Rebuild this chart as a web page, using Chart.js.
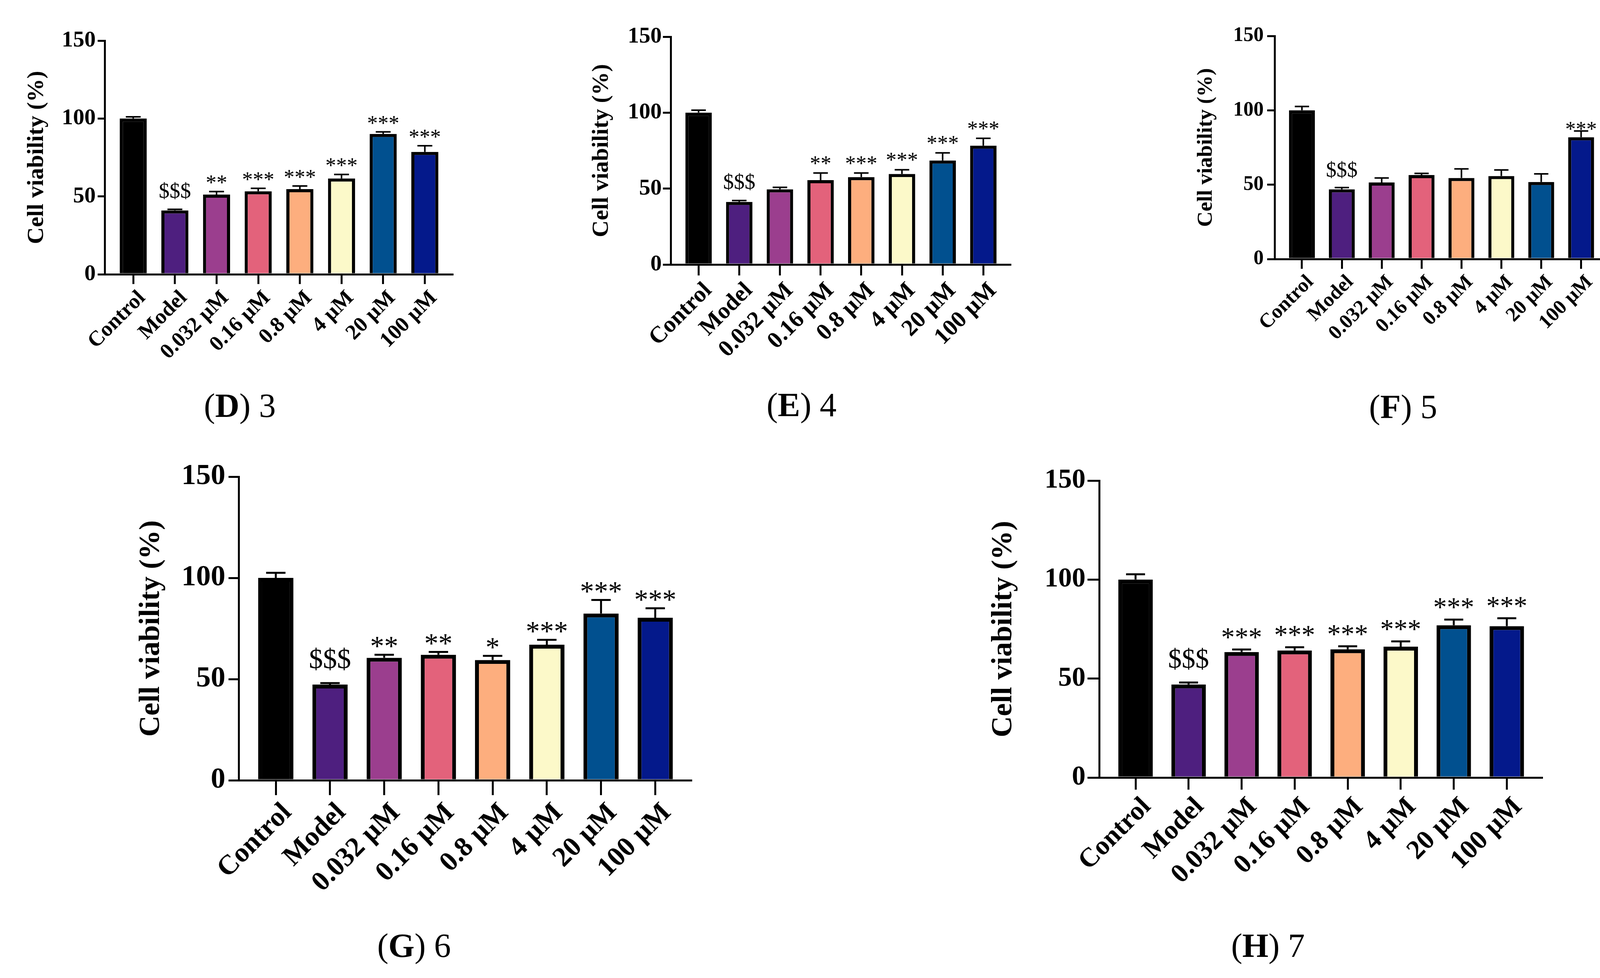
<!DOCTYPE html>
<html>
<head>
<meta charset="utf-8">
<script src="https://cdn.jsdelivr.net/npm/chart.js@4.4.1/dist/chart.umd.min.js"></script>
<style>
  html, body { margin: 0; padding: 0; background: #fff; }
  #page { position: relative; width: 4179px; height: 2503px; background: #fff; overflow: hidden; }
  canvas { position: absolute; }
  .cap { position: absolute; font-family: 'Liberation Serif', serif; font-size: 86px; color: #000;
         transform: translate(-50%, -50%); white-space: nowrap; line-height: 1; }
</style>
</head>
<body>
<div id="page"></div>
<script>
// groups on the x axis, same for every panel
const categories = ['Control', 'Model', '0.032 µM', '0.16 µM', '0.8 µM', '4 µM', '20 µM', '100 µM'];
const yTicks = [0, 50, 100, 150];

// mean cell viability (%) and upper error (SD)
const meanD = [100, 41, 51.2, 53.3, 54.7, 61.5, 90.1, 78.6];
const errD = [1.1, 0.7, 1.9, 1.9, 2.0, 2.6, 1.3, 3.9];
const marksD = ['', '$$$', '**', '***', '***', '***', '***', '***'];

const meanE = [100, 41.2, 49.5, 55.6, 57.6, 59.6, 68.5, 78.3];
const errE = [1.6, 0.9, 1.3, 4.7, 2.7, 2.8, 5.0, 4.8];
const marksE = ['', '$$$', '', '**', '***', '***', '***', '***'];

const meanF = [100, 46.9, 51.5, 56.5, 54.5, 55.8, 51.8, 81.9];
const errF = [2.6, 1.2, 3.0, 1.1, 6.1, 4.1, 5.5, 4.2];
const marksF = ['', '$$$', '', '', '', '', '', '***'];

const meanG = [100, 47.3, 60.5, 62.0, 59.4, 67.0, 82.4, 80.3];
const errG = [2.5, 0.7, 1.5, 1.4, 2.1, 2.4, 6.7, 4.7];
const marksG = ['', '$$$', '**', '**', '*', '***', '***', '***'];

const meanH = [100, 47.0, 63.4, 64.2, 64.8, 66.1, 76.9, 76.5];
const errH = [2.7, 1.0, 1.3, 1.6, 1.5, 2.7, 2.9, 4.0];
const marksH = ['', '$$$', '***', '***', '***', '***', '***', '***'];

const barColors = ['#000000', '#4e1f7f', '#9b3e8e', '#e3627b', '#fdae7e', '#fcf9c9', '#01508f', '#04198b'];
const serif = "'Liberation Serif', 'Times New Roman', serif";

// layout of each panel (pixels in the page)
const panels = [
  { letter: 'D', num: '3', mean: meanD, err: errD, marks: marksD,
    box: [20, 40, 1200, 1000], axisX: 268, axisTop: 104, axisBottom: 702, axisRight: 1158, titleX: 94,
    tickFont: 58, labelFont: 55, titleFont: 60, markFont: 55, yTickLen: 18, yPad: 5, xTickLen: 25,
    barBorder: 8, errWidth: 4, starGap: 18, dollarGap: 24, caption: [614, 1038] },
  { letter: 'E', num: '4', mean: meanE, err: errE, marks: marksE,
    box: [1460, 30, 2630, 1000], axisX: 1717, axisTop: 94, axisBottom: 677, axisRight: 2586, titleX: 1540,
    tickFont: 58, labelFont: 60, titleFont: 60, markFont: 55, yTickLen: 20, yPad: 3, xTickLen: 28,
    barBorder: 8, errWidth: 4, starGap: 20, dollarGap: 24, caption: [2052, 1036] },
  { letter: 'F', num: '5', mean: meanF, err: errF, marks: marksF,
    box: [3020, 30, 4170, 1000], axisX: 3263, axisTop: 92, axisBottom: 663, axisRight: 4115, titleX: 3088,
    tickFont: 52, labelFont: 52, titleFont: 55, markFont: 54, yTickLen: 19, yPad: 9, xTickLen: 25,
    barBorder: 8, errWidth: 4, starGap: 0, dollarGap: 22, caption: [3592, 1041] },
  { letter: 'G', num: '6', mean: meanG, err: errG, marks: marksG,
    box: [320, 1150, 1820, 2360], axisX: 611, axisTop: 1220, axisBottom: 1997, axisRight: 1769, titleX: 388,
    tickFont: 75, labelFont: 71, titleFont: 75, markFont: 72, yTickLen: 26, yPad: 8, xTickLen: 38,
    barBorder: 10, errWidth: 5, starGap: 16, dollarGap: 30, caption: [1060, 2420] },
  { letter: 'H', num: '7', mean: meanH, err: errH, marks: marksH,
    box: [2500, 1150, 4000, 2360], axisX: 2814, axisTop: 1230, axisBottom: 1990, axisRight: 3947, titleX: 2570,
    tickFont: 70, labelFont: 69, titleFont: 75, markFont: 70, yTickLen: 30, yPad: 5, xTickLen: 31,
    barBorder: 10, errWidth: 5, starGap: 26, dollarGap: 30, caption: [3246, 2420] }
];

// upper error bars plus significance marks, placed through the chart's own scales
const errorBars = {
  id: 'errorBars',
  afterDatasetsDraw(chart, args, opts) {
    const { ctx } = chart;
    const yScale = chart.scales.y;
    const ds = chart.data.datasets[0];
    const meta = chart.getDatasetMeta(0);
    ctx.save();
    meta.data.forEach((bar, i) => {
      const top = yScale.getPixelForValue(ds.mean[i] + ds.errors[i]);
      const half = bar.width * 0.55 / 2;
      ctx.strokeStyle = '#000';
      ctx.lineWidth = opts.lineWidth;
      ctx.beginPath();
      ctx.moveTo(bar.x, bar.y);
      ctx.lineTo(bar.x, top);
      ctx.moveTo(bar.x - half, top);
      ctx.lineTo(bar.x + half, top);
      ctx.stroke();

      const mark = ds.marks[i];
      if (mark) {
        ctx.font = opts.markFont + 'px ' + serif;
        ctx.textAlign = 'center';
        ctx.textBaseline = 'alphabetic';
        ctx.fillStyle = '#000';
        const m = ctx.measureText(mark);
        const gap = mark[0] === '$' ? opts.dollarGap : opts.starGap;
        ctx.fillText(mark, bar.x, top - gap - opts.errHalf - m.actualBoundingBoxDescent);
      }
    });
    ctx.restore();
  }
};

const page = document.getElementById('page');

panels.forEach(p => {
  const [l, t, r, b] = p.box;
  const canvas = document.createElement('canvas');
  canvas.width = r - l;
  canvas.height = b - t;
  canvas.style.left = l + 'px';
  canvas.style.top = t + 'px';
  page.appendChild(canvas);

  const cap = document.createElement('div');
  cap.className = 'cap';
  cap.style.left = p.caption[0] + 'px';
  cap.style.top = p.caption[1] + 'px';
  cap.innerHTML = '(<b>' + p.letter + '</b>) ' + p.num;
  page.appendChild(cap);

  new Chart(canvas, {
    type: 'bar',
    data: {
      datasets: [{
        data: p.mean.map((v, i) => ({ x: i, y: v })),
        mean: p.mean,
        errors: p.err,
        marks: p.marks,
        backgroundColor: barColors,
        borderColor: '#000',
        borderWidth: p.barBorder,
        barPercentage: 0.65,
        categoryPercentage: 1
      }]
    },
    options: {
      responsive: false,
      animation: false,
      devicePixelRatio: 1,
      layout: { padding: { top: p.axisTop - t, right: r - p.axisRight, left: 0, bottom: 0 } },
      plugins: {
        legend: { display: false },
        tooltip: { enabled: false },
        errorBars: { lineWidth: p.errWidth, markFont: p.markFont, starGap: p.starGap,
                     dollarGap: p.dollarGap, errHalf: p.errWidth / 2 }
      },
      scales: {
        x: {
          type: 'linear',
          min: -0.685,
          max: 7.66,
          offset: false,
          z: 1,
          afterBuildTicks: s => { s.ticks = categories.map((c, i) => ({ value: i })); },
          afterFit: s => { s.height = b - p.axisBottom; },
          grid: { drawOnChartArea: false, drawTicks: true, offset: false, tickLength: p.xTickLen,
                  color: '#000', tickColor: '#000', lineWidth: 5, tickWidth: 5 },
          border: { display: true, color: '#000', width: 5 },
          ticks: {
            autoSkip: false, minRotation: 45, maxRotation: 45, padding: 4,
            labelOffset: Math.round(p.labelFont * 0.42),
            color: '#000',
            font: { family: serif, weight: 'bold', size: p.labelFont },
            callback: v => categories[v]
          }
        },
        y: {
          min: yTicks[0],
          max: yTicks[yTicks.length - 1],
          z: 1,
          afterBuildTicks: s => { s.ticks = yTicks.map(v => ({ value: v })); },
          afterFit: s => { s.width = p.axisX - l; },
          grid: { drawOnChartArea: false, drawTicks: true, tickLength: p.yTickLen,
                  color: '#000', tickColor: '#000', lineWidth: 5, tickWidth: 5 },
          border: { display: true, color: '#000', width: 5 },
          ticks: { padding: p.yPad, color: '#000', font: { family: serif, weight: 'bold', size: p.tickFont } },
          title: {
            display: true,
            text: 'Cell viability (%)',
            color: '#000',
            font: { family: serif, weight: 'bold', size: p.titleFont, lineHeight: 1.2 },
            padding: { top: p.titleX - l - 0.6 * p.titleFont, bottom: 0 }
          }
        }
      }
    },
    plugins: [errorBars]
  });
});
</script>
</body>
</html>
